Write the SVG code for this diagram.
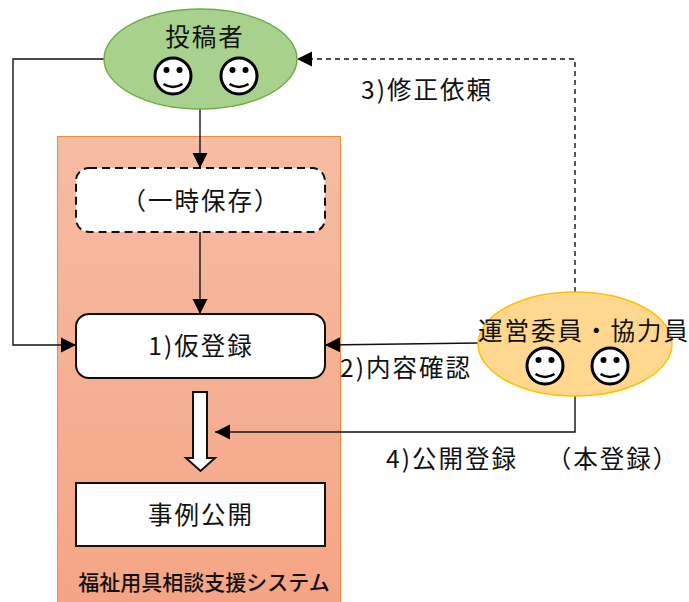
<svg xmlns="http://www.w3.org/2000/svg" width="689" height="602" viewBox="0 0 689 602">
<defs>
<linearGradient id="sys" x1="0" y1="0" x2="0" y2="1"><stop offset="0" stop-color="#f6bca4"/><stop offset="1" stop-color="#f5a585"/></linearGradient>
<marker id="ah" markerUnits="userSpaceOnUse" markerWidth="16" markerHeight="16" refX="15" refY="8" orient="auto"><path d="M0,0.5 L15,8 L0,15.5 Z" fill="#000"/></marker>
<g id="smile"><circle cx="0" cy="0" r="18" fill="#fff" stroke="#000" stroke-width="3"/><circle cx="-6.500" cy="-6" r="3" fill="#000"/><circle cx="6.500" cy="-6" r="3" fill="#000"/><path d="M-9.500,8 Q0,14 9.500,8" fill="none" stroke="#000" stroke-width="2.500"/></g>
</defs>
<style>
text{font-family:"Noto Sans CJK JP","Liberation Sans",sans-serif;fill:#111;font-size:24.500px;letter-spacing:2px;text-anchor:middle}
.c{fill:none;stroke:#111;stroke-width:1.400}
.b{fill:#fff;stroke:#111;stroke-width:2}
</style>
<g id="system"><rect x="57.500" y="136.500" width="283" height="466" fill="url(#sys)" stroke="#f28a3c" stroke-width="1"/><text x="204" y="590" style="font-size:21px;letter-spacing:0;font-weight:500">福祉用具相談支援システム</text></g>
<g id="temp"><rect x="76" y="168" width="249" height="64" rx="13" class="b" stroke-dasharray="8 5"/><text x="201" y="210">（一時保存）</text></g>
<g id="provisional"><rect x="76" y="314" width="249" height="64" rx="13" class="b"/><text x="201" y="355">1)仮登録</text></g>
<g id="publish"><rect x="76" y="483" width="249" height="63" class="b"/><text x="201" y="524">事例公開</text></g>
<g id="bigarrow"><path d="M193,392 H207 V458 H215 L200.500,471 L186,458 H193 Z" fill="#fff" stroke="#111" stroke-width="2"/></g>
<g id="connectors">
<path class="c" d="M104,59 H13 V345 H76" marker-end="url(#ah)"/>
<path class="c" d="M200,108 V168" marker-end="url(#ah)"/>
<path class="c" d="M200,232 V314" marker-end="url(#ah)"/>
<path class="c" d="M478,343 L325,345" marker-end="url(#ah)"/>
<path class="c" d="M575,292 V59 H297" stroke-dasharray="5 4" marker-end="url(#ah)"/>
<path class="c" d="M575,396 V432 H215" marker-end="url(#ah)"/>
</g>
<g id="author"><ellipse cx="200.500" cy="59" rx="96.500" ry="50" fill="#a9d18e" stroke="#70ad47" stroke-width="1.500"/><text x="205" y="46">投稿者</text><use href="#smile" x="173" y="76"/><use href="#smile" x="239" y="76"/></g>
<g id="committee"><ellipse cx="575" cy="344" rx="97" ry="52" fill="#ffd78f" stroke="#ffc000" stroke-width="1.500"/><text x="584" y="340">運営委員・協力員</text><use href="#smile" x="545" y="366"/><use href="#smile" x="610" y="366"/></g>
<g id="labels">
<text x="427" y="99">3)修正依頼</text>
<text x="406" y="377">2)内容確認</text>
<text x="452" y="468">4)公開登録</text>
<text x="613" y="468">（本登録）</text>
</g>
</svg>
